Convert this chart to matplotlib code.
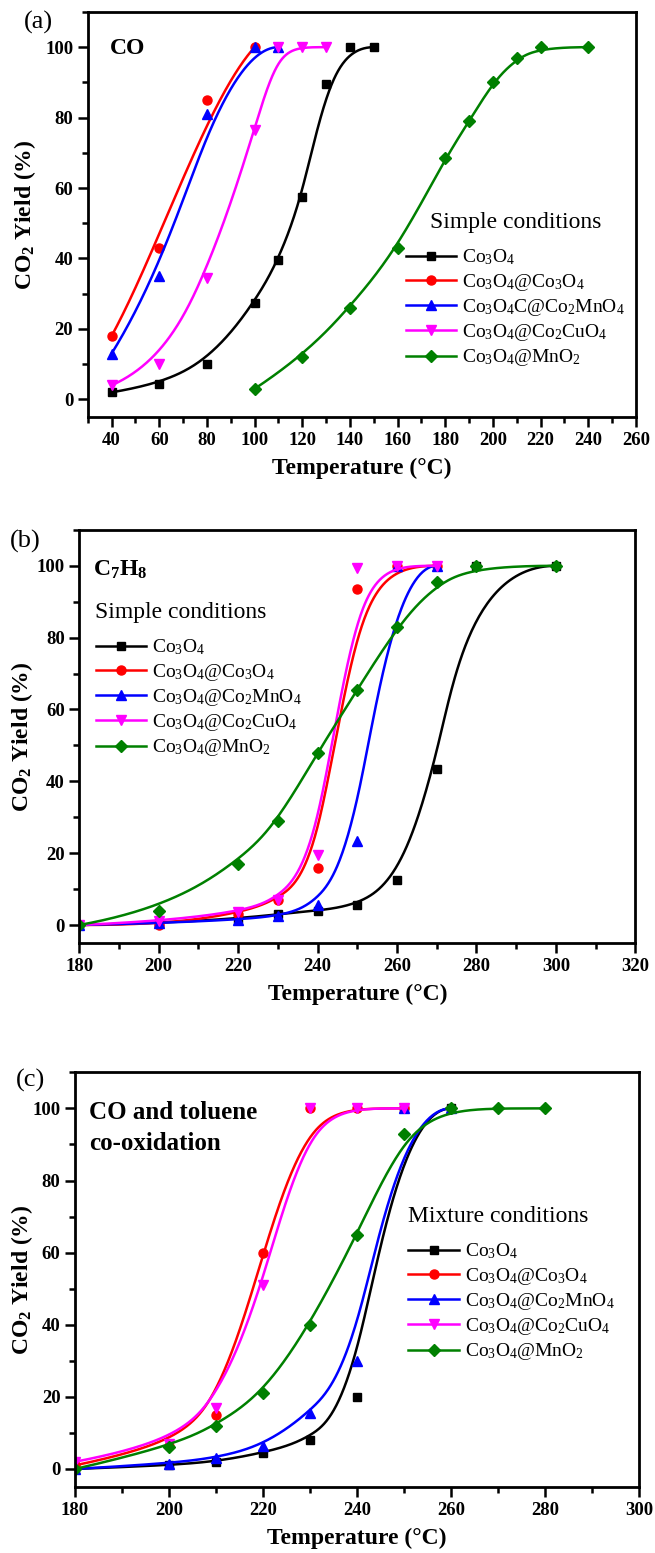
import numpy as np
import matplotlib
matplotlib.use("Agg")
import matplotlib.pyplot as plt
from matplotlib.lines import Line2D
from matplotlib.ticker import MultipleLocator

plt.rcParams['font.family'] = ['Liberation Serif', 'DejaVu Serif']
plt.rcParams['mathtext.fontset'] = 'custom'
plt.rcParams['mathtext.rm'] = 'Liberation Serif'
plt.rcParams['mathtext.it'] = 'Liberation Serif:italic'
plt.rcParams['mathtext.bf'] = 'Liberation Serif:bold'

# (a) CO, simple conditions
a_T_co3o4 = [40, 60, 80, 100, 110, 120, 130, 140, 150]
a_Y_co3o4 = [2, 4.3, 10, 27.5, 39.5, 57.5, 89.5, 100, 100]
a_T_coco = [40, 60, 80, 100]
a_Y_coco = [18, 43, 85, 100]
a_T_comn = [40, 60, 80, 100, 110]
a_Y_comn = [13, 35, 81, 100, 100]
a_T_cocu = [40, 60, 80, 100, 110, 120, 130]
a_Y_cocu = [4, 10, 34.5, 76.5, 100, 100, 100]
a_T_mno2 = [100, 120, 140, 160, 180, 190, 200, 210, 220, 240]
a_Y_mno2 = [3, 12, 26, 43, 68.5, 79, 90, 97, 100, 100]

# (b) C7H8, simple conditions
b_T_co3o4 = [180, 200, 220, 230, 240, 250, 260, 270, 280, 300]
b_Y_co3o4 = [0, 0.5, 1.8, 3, 4, 5.5, 12.5, 43.5, 100, 100]
b_T_coco = [180, 200, 220, 230, 240, 250, 260, 270]
b_Y_coco = [0, 0, 3, 7, 16, 93.5, 100, 100]
b_T_comn = [180, 200, 220, 230, 240, 250, 260, 270]
b_Y_comn = [0, 0.5, 1.5, 2.5, 5.5, 23.5, 100, 100]
b_T_cocu = [180, 200, 220, 230, 240, 250, 260, 270]
b_Y_cocu = [0, 1, 3.5, 7, 19.5, 99.5, 100, 100]
b_T_mno2 = [180, 200, 220, 230, 240, 250, 260, 270, 280, 300]
b_Y_mno2 = [0, 4, 17, 29, 48, 65.5, 83, 95.5, 100, 100]

# (c) CO + toluene, mixture conditions
c_T_co3o4 = [180, 200, 210, 220, 230, 240, 250, 260]
c_Y_co3o4 = [0, 1, 2, 4.5, 8, 20, 100, 100]
c_T_coco = [180, 200, 210, 220, 230, 240, 250]
c_Y_coco = [1, 6.5, 15, 60, 100, 100, 100]
c_T_comn = [180, 200, 210, 220, 230, 240, 250, 260]
c_Y_comn = [0, 1.5, 3, 6.5, 15.5, 30, 100, 100]
c_T_cocu = [180, 200, 210, 220, 230, 240, 250]
c_Y_cocu = [2, 7, 17, 51, 100, 100, 100]
c_T_mno2 = [180, 200, 210, 220, 230, 240, 250, 260, 270, 280]
c_Y_mno2 = [0, 6, 12, 21, 40, 65, 93, 100, 100, 100]

labels_a = [r'$\mathregular{Co_3O_4}$', r'$\mathregular{Co_3O_4@Co_3O_4}$',
            r'$\mathregular{Co_3O_4C@Co_2MnO_4}$', r'$\mathregular{Co_3O_4@Co_2CuO_4}$',
            r'$\mathregular{Co_3O_4@MnO_2}$']
labels_bc = [r'$\mathregular{Co_3O_4}$', r'$\mathregular{Co_3O_4@Co_3O_4}$',
             r'$\mathregular{Co_3O_4@Co_2MnO_4}$', r'$\mathregular{Co_3O_4@Co_2CuO_4}$',
             r'$\mathregular{Co_3O_4@MnO_2}$']
colors = ['black', '#ff0000', '#0000ff', '#ff00ff', '#008000']
markers = ['s', 'o', '^', 'v', 'D']
msizes = [6, 6.5, 7, 7, 6]


# clamped cubic B-spline with the data points as control points
def bspline(x, y, n=400, k=3):
    P = np.column_stack([x, y]).astype(float)
    m = len(P)
    k = min(k, m - 1)
    T = np.concatenate([np.zeros(k), np.arange(m - k + 1), np.full(k, m - k)]).astype(float)
    t = np.linspace(0, m - k, n)
    N = np.array([(T[i] <= t) & (t < T[i + 1]) for i in range(len(T) - 1)], float)
    N[:, -1] = 0
    N[m - 1, -1] = 1
    for p in range(1, k + 1):
        rows = []
        for i in range(len(T) - 1 - p):
            d1 = T[i + p] - T[i]
            d2 = T[i + p + 1] - T[i + 1]
            left = (t - T[i]) / d1 * N[i] if d1 > 0 else 0 * t
            right = (T[i + p + 1] - t) / d2 * N[i + 1] if d2 > 0 else 0 * t
            rows.append(left + right)
        N = np.array(rows)
    C = N.T @ P
    return C[:, 0], C[:, 1]


def panel(ax, series, xlim, xticks, ypad):
    for (t, y), c, m, ms in zip(series, colors, markers, msizes):
        xs, ys = bspline(t, y)
        ax.plot(xs, ys, color=c, lw=1.8)
        ax.plot(t, y, ls='none', marker=m, color=c, ms=ms)
    ax.set_xlim(*xlim)
    ax.set_ylim(-5, 110)
    ax.set_xticks(xticks)
    ax.set_yticks([0, 20, 40, 60, 80, 100])
    ax.xaxis.set_minor_locator(MultipleLocator(10))
    ax.yaxis.set_minor_locator(MultipleLocator(10))
    ax.tick_params(which='both', direction='out', width=1.8, labelsize=13.5,
                   top=False, right=False)
    ax.tick_params(which='major', length=7)
    ax.tick_params(which='minor', length=4)
    for lb in ax.get_xticklabels() + ax.get_yticklabels():
        lb.set_fontweight('bold')
    for sp in ax.spines.values():
        sp.set_linewidth(2.0)
    ax.set_xlabel('Temperature (°C)', fontsize=17, fontweight='bold', labelpad=7)
    ax.set_ylabel(r'$\mathregular{CO_2}$ Yield (%)', fontsize=17, fontweight='bold',
                  labelpad=ypad)


def add_legend(ax, labels, title, tx, ty, lx, ly):
    ax.text(tx, ty, title, transform=ax.transAxes, fontsize=17, va='center')
    hs = [Line2D([], [], color=c, marker=m, ms=ms, lw=1.8)
          for c, m, ms in zip(colors, markers, msizes)]
    ax.legend(hs, labels, loc='center left', bbox_to_anchor=(lx, ly),
              frameon=False, fontsize=14, handlelength=2.6, handletextpad=0.3,
              labelspacing=0.22, borderpad=0, borderaxespad=0)


fig = plt.figure(figsize=(6.55, 15.53), dpi=100)

ax1 = fig.add_axes([0.134, 0.7315, 0.837, 0.2608])
panel(ax1, [(a_T_co3o4, a_Y_co3o4), (a_T_coco, a_Y_coco), (a_T_comn, a_Y_comn),
            (a_T_cocu, a_Y_cocu), (a_T_mno2, a_Y_mno2)],
      (30, 260), range(40, 261, 20), 5)
ax1.text(0.04, 0.911, 'CO', transform=ax1.transAxes, fontsize=17,
         fontweight='bold', va='center')
add_legend(ax1, labels_a, 'Simple conditions', 0.625, 0.481, 0.58, 0.269)

ax2 = fig.add_axes([0.121, 0.3928, 0.849, 0.266])
panel(ax2, [(b_T_co3o4, b_Y_co3o4), (b_T_coco, b_Y_coco), (b_T_comn, b_Y_comn),
            (b_T_cocu, b_Y_cocu), (b_T_mno2, b_Y_mno2)],
      (180, 320), range(180, 321, 20), 1)
ax2.text(0.025, 0.903, r'$\mathregular{C_7H_8}$', transform=ax2.transAxes,
         fontsize=17, fontweight='bold', va='center')
add_legend(ax2, labels_bc, 'Simple conditions', 0.028, 0.799, 0.03, 0.593)

ax3 = fig.add_axes([0.1145, 0.0425, 0.861, 0.267])
panel(ax3, [(c_T_co3o4, c_Y_co3o4), (c_T_coco, c_Y_coco), (c_T_comn, c_Y_comn),
            (c_T_cocu, c_Y_cocu), (c_T_mno2, c_Y_mno2)],
      (180, 300), range(180, 301, 20), -2)
ax3.text(0.025, 0.904, 'CO and toluene', transform=ax3.transAxes,
         fontsize=18, fontweight='bold', va='center')
ax3.text(0.025, 0.829, 'co-oxidation', transform=ax3.transAxes,
         fontsize=18, fontweight='bold', va='center')
add_legend(ax3, labels_bc, 'Mixture conditions', 0.591, 0.653, 0.591, 0.446)

fig.text(24 / 655, 1 - 22 / 1553, '(a)', fontsize=19, va='center')
fig.text(10 / 655, 1 - 541 / 1553, '(b)', fontsize=19, va='center')
fig.text(16 / 655, 1 - 1080 / 1553, '(c)', fontsize=19, va='center')

fig.savefig('out.png', dpi=100)
